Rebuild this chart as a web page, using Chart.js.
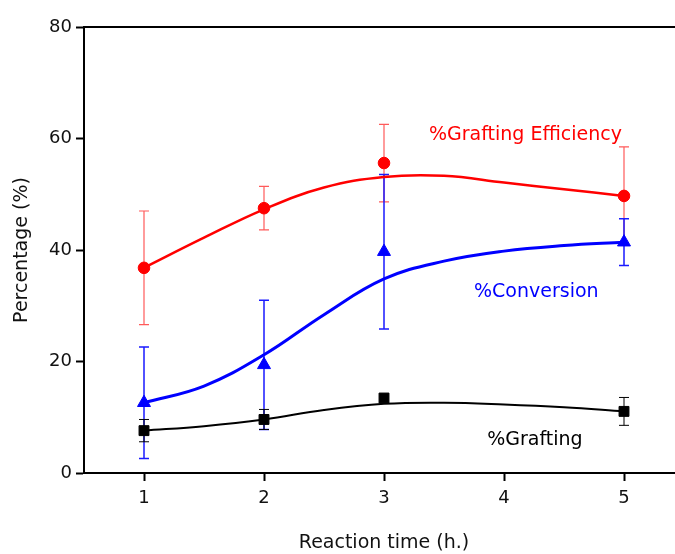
<!DOCTYPE html>
<html>
<head>
<meta charset="utf-8">
<script src="https://cdn.jsdelivr.net/npm/chart.js@4.4.1/dist/chart.umd.min.js"></script>
<style>
  html, body { margin: 0; padding: 0; background: #ffffff; overflow: hidden; }
  #wrap { width: 700px; height: 554px; }
</style>
</head>
<body>
<div id="wrap"><canvas id="c" width="700" height="554"></canvas></div>
<script>
// ---- data ----
const times = [1, 2, 3, 5];
const efficiency = [36.8, 47.5, 55.6, 49.7];
const efficiencyErr = [10.2, 3.9, 6.95, 8.8];
const conversion = [12.6, 19.4, 39.7, 41.4];
const conversionErr = [10.0, 11.6, 13.85, 4.2];
const grafting = [7.6, 9.6, 13.45, 11.05];
const graftingErr = [2.0, 1.8, 0, 2.5];

const fitTimes = [1, 1.5, 2, 2.5, 3, 3.5, 4, 4.5, 5];
const efficiencyFit = [36.8, 42.2, 47.3, 51.2, 53.1, 53.3, 52.1, 50.9, 49.7];
const conversionFit = [12.6, 15.6, 21.2, 28.4, 34.8, 38.0, 39.8, 40.8, 41.4];
const graftingFit = [7.6, 8.4, 9.6, 11.3, 12.4, 12.6, 12.3, 11.8, 11.05];

const xTicks = [1, 2, 3, 4, 5];
const yTicks = [0, 20, 40, 60, 80];

const seriesLabels = [
  { text: '%Grafting Efficiency', color: '#ff0000', x: 3.375, y: 59.8 },
  { text: '%Conversion', color: '#0000ff', x: 3.75, y: 31.6 },
  { text: '%Grafting', color: '#000000', x: 3.86, y: 5.1 }
];

const pts = (xs, ys) => xs.map((x, i) => ({ x: x, y: ys[i] }));
const FONT = '"DejaVu Sans", Verdana, sans-serif';

const errorBars = {
  id: 'errorBars',
  beforeDatasetsDraw(chart) {
    const ctx = chart.ctx;
    const xs = chart.scales.x, ys = chart.scales.y;
    chart.data.datasets.forEach(ds => {
      if (!ds.errors) return;
      ctx.save();
      ctx.strokeStyle = ds.errorColor;
      ctx.lineWidth = ds.errorWidth;
      ds.data.forEach((p, i) => {
        const e = ds.errors[i];
        if (!e) return;
        const px = xs.getPixelForValue(p.x);
        const top = ys.getPixelForValue(p.y + e);
        const bot = ys.getPixelForValue(p.y - e);
        ctx.beginPath();
        ctx.moveTo(px, top); ctx.lineTo(px, bot);
        ctx.moveTo(px - 5, top); ctx.lineTo(px + 5, top);
        ctx.moveTo(px - 5, bot); ctx.lineTo(px + 5, bot);
        ctx.stroke();
      });
      ctx.restore();
    });
  },
  afterDatasetsDraw(chart) {
    const ctx = chart.ctx;
    const a = chart.chartArea;
    ctx.save();
    ctx.strokeStyle = '#000';
    ctx.lineWidth = 2;
    ctx.beginPath();
    ctx.moveTo(a.left, a.top); ctx.lineTo(a.right, a.top);
    ctx.stroke();
    ctx.font = '19px ' + FONT;
    ctx.textAlign = 'left';
    ctx.textBaseline = 'alphabetic';
    seriesLabels.forEach(l => {
      ctx.fillStyle = l.color;
      ctx.fillText(l.text, chart.scales.x.getPixelForValue(l.x), chart.scales.y.getPixelForValue(l.y));
    });
    ctx.restore();
  }
};

new Chart(document.getElementById('c'), {
  type: 'scatter',
  data: {
    datasets: [
      { type: 'line', data: pts(fitTimes, efficiencyFit), borderColor: '#ff0000', borderWidth: 2.5,
        pointRadius: 0, tension: 0.4, fill: false, order: 3 },
      { type: 'line', data: pts(fitTimes, conversionFit), borderColor: '#0000ff', borderWidth: 3,
        pointRadius: 0, tension: 0.4, fill: false, order: 3 },
      { type: 'line', data: pts(fitTimes, graftingFit), borderColor: '#000000', borderWidth: 2,
        pointRadius: 0, tension: 0.4, fill: false, order: 3 },
      { data: pts(times, efficiency), errors: efficiencyErr, errorColor: '#ff5a5a', errorWidth: 1.2,
        pointStyle: 'circle', pointRadius: 5.8, backgroundColor: '#ff0000', borderColor: '#ff0000', order: 1 },
      { data: pts(times, conversion), errors: conversionErr, errorColor: '#1a1aff', errorWidth: 1.5,
        pointStyle: 'triangle', pointRadius: 7.5, backgroundColor: '#0000ff', borderColor: '#0000ff', order: 1 },
      { data: pts(times, grafting), errors: graftingErr, errorColor: '#000000', errorWidth: 1,
        pointStyle: 'rect', pointRadius: 7, backgroundColor: '#000000', borderColor: '#000000', order: 1 }
    ]
  },
  options: {
    responsive: false,
    animation: false,
    layout: { padding: { top: 27, right: 16, left: 0, bottom: 0 } },
    plugins: { legend: { display: false }, tooltip: { enabled: false } },
    scales: {
      x: {
        type: 'linear', min: 0.5, max: 5.5,
        afterBuildTicks: s => { s.ticks = xTicks.map(v => ({ value: v })); },
        afterFit: s => { s.height = 81; },
        grid: { drawOnChartArea: false, drawTicks: true, tickLength: 8, tickWidth: 2, tickColor: '#000' },
        border: { display: true, color: '#000', width: 2 },
        ticks: { color: '#111', font: { family: FONT, size: 18 }, padding: 7 },
        title: { display: true, text: 'Reaction time (h.)', color: '#111',
                 font: { family: FONT, size: 19 }, padding: { top: 0, bottom: 0 } }
      },
      y: {
        type: 'linear', min: 0, max: 80,
        afterBuildTicks: s => { s.ticks = yTicks.map(v => ({ value: v })); },
        afterFit: s => { s.width = 84; },
        grid: { drawOnChartArea: false, drawTicks: true, tickLength: 8, tickWidth: 2, tickColor: '#000' },
        border: { display: true, color: '#000', width: 2 },
        ticks: { color: '#111', font: { family: FONT, size: 18 }, padding: 4 },
        title: { display: true, text: 'Percentage (%)', color: '#111',
                 font: { family: FONT, size: 19 }, padding: { top: 11, bottom: 0 } }
      }
    }
  },
  plugins: [errorBars]
});
</script>
</body>
</html>
